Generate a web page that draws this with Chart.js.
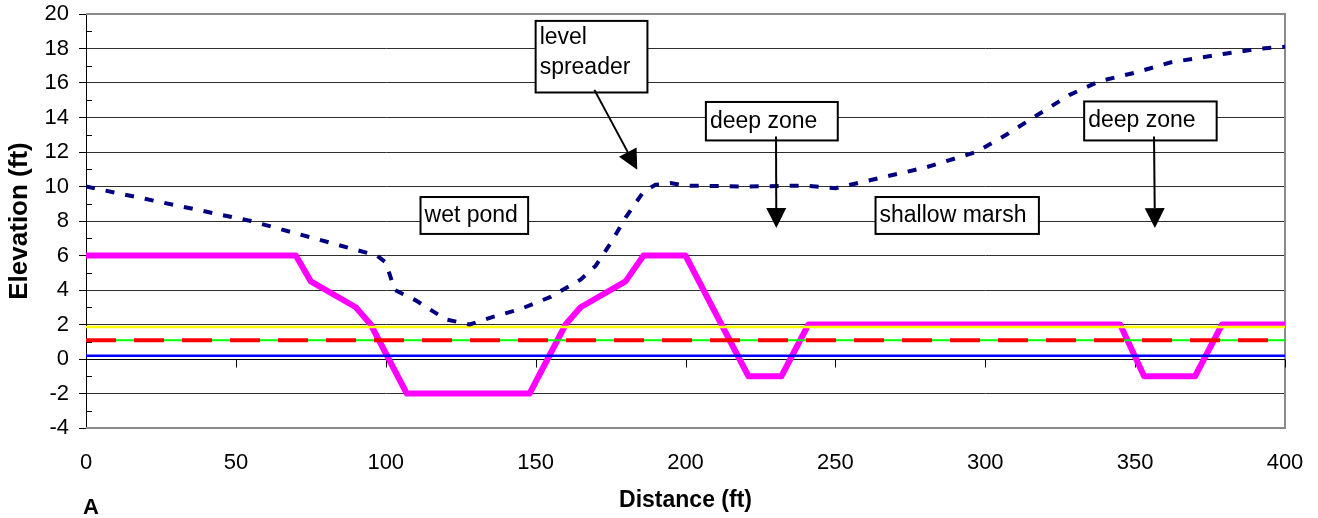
<!DOCTYPE html>
<html lang="en">
<head>
    <meta charset="UTF-8">
    <title>Cross section elevation profile</title>
    <script src="https://cdn.jsdelivr.net/npm/chart.js"></script>
    <style>
        body { margin: 0; background: #fff; }
        #wrap { width: 1318px; height: 518px; }
    </style>
</head>
<body>
<div id="wrap"><canvas id="profileChart" width="1318" height="518"></canvas></div>

<script>
    // existing ground surface
    const groundDist = [0, 55, 97, 100, 103, 110, 120, 128, 135, 145, 155, 165, 170, 175, 180, 186, 190, 195, 200, 220, 240, 250, 265, 280, 297, 307, 317, 328, 338, 350, 362, 380, 392, 400];
    const groundElev = [10, 8, 6, 5.6, 4, 3.4, 2.3, 2, 2.4, 2.9, 3.6, 4.6, 5.4, 6.7, 8.2, 9.7, 10.1, 10.2, 10.05, 10, 10.05, 9.9, 10.5, 11.1, 12, 13, 14.1, 15.3, 16.1, 16.6, 17.2, 17.7, 18, 18.1];

    // proposed grading
    const profileDist = [0, 70, 75, 90, 95, 107, 148, 160, 165, 180, 186, 200, 221, 232, 241, 345, 353, 370, 379, 400];
    const profileElev = [6, 6, 4.5, 3, 2, -2, -2, 2, 3, 4.5, 6, 6, -1, -1, 2, 2, -1, -1, 2, 2];

    // water levels (flat across the section)
    const levelNames = ['Level 1', 'Level 2', 'Level 3', 'Level 4'];
    const levelElev = [1.86, 1.09, 1.09, 0.19];
    const sectionEnds = [0, 400];

    const xTicks = [0, 50, 100, 150, 200, 250, 300, 350, 400];
    const yTicks = [-4, -2, 0, 2, 4, 6, 8, 10, 12, 14, 16, 18, 20];

    const FONT = '"Liberation Sans", Arial, sans-serif';
    Chart.defaults.font.family = FONT;
    Chart.defaults.color = '#000';

    const toPoints = (xs, ys) => xs.map((x, i) => ({ x: x, y: ys[i] }));
    const flat = v => toPoints(sectionEnds, sectionEnds.map(() => v));

    // text boxes and arrows, placed in axis units
    const notes = [
        { lines: ['level', 'spreader'], box: [150, 19.6, 187.3, 15.45], arrow: [169.6, 15.6, 183.9, 10.97] },
        { lines: ['deep zone'], box: [206.8, 14.9, 250.8, 12.67], arrow: [230.2, 12.9, 230.3, 7.59] },
        { lines: ['deep zone'], box: [333.0, 14.93, 377.2, 12.67], arrow: [356.3, 12.9, 356.6, 7.59] },
        { lines: ['wet pond'], box: [111.6, 9.39, 147.5, 7.25] },
        { lines: ['shallow marsh'], box: [263.4, 9.39, 317.9, 7.25] }
    ];

    const framePlugin = {
        id: 'frame',
        beforeDatasetsDraw(chart) {
            const { ctx, chartArea: a, scales: { x, y } } = chart;
            ctx.save();
            // plot border
            ctx.strokeStyle = '#8a8a8a';
            ctx.lineWidth = 2;
            ctx.beginPath();
            ctx.moveTo(a.left, a.top);
            ctx.lineTo(a.right, a.top);
            ctx.lineTo(a.right, a.bottom);
            ctx.lineTo(a.left, a.bottom);
            ctx.stroke();
            // category axis crosses at 0
            const y0 = Math.round(y.getPixelForValue(0)) + 0.5;
            ctx.strokeStyle = '#000';
            ctx.lineWidth = 1;
            ctx.beginPath();
            ctx.moveTo(a.left, y0);
            ctx.lineTo(a.right, y0);
            xTicks.forEach(v => {
                if (v === 0) return;
                const px = Math.round(x.getPixelForValue(v)) + 0.5;
                ctx.moveTo(px, y0);
                ctx.lineTo(px, y0 + 8);
            });
            // minor ticks inside the value axis
            for (let v = -3; v < 20; v += 2) {
                const py = Math.round(y.getPixelForValue(v)) + 0.5;
                ctx.moveTo(a.left, py);
                ctx.lineTo(a.left + 6, py);
            }
            ctx.stroke();
            ctx.restore();
        },
        afterDatasetsDraw(chart) {
            const { ctx, scales: { x, y } } = chart;
            ctx.save();
            ctx.font = '23px ' + FONT;
            ctx.textBaseline = 'middle';
            notes.forEach(n => {
                const x0 = x.getPixelForValue(n.box[0]), y0 = y.getPixelForValue(n.box[1]);
                const x1 = x.getPixelForValue(n.box[2]), y1 = y.getPixelForValue(n.box[3]);
                ctx.fillStyle = '#fff';
                ctx.fillRect(x0, y0, x1 - x0, y1 - y0);
                ctx.strokeStyle = '#000';
                ctx.lineWidth = 2;
                ctx.strokeRect(x0, y0, x1 - x0, y1 - y0);
                ctx.fillStyle = '#000';
                n.lines.forEach((t, i) => {
                    const ty = n.lines.length === 1 ? (y0 + y1) / 2 : y0 + 17 + i * 30;
                    ctx.fillText(t, x0 + 4, ty);
                });
                if (n.arrow) {
                    const ax = x.getPixelForValue(n.arrow[0]), ay = y.getPixelForValue(n.arrow[1]);
                    const bx = x.getPixelForValue(n.arrow[2]), by = y.getPixelForValue(n.arrow[3]);
                    const ang = Math.atan2(by - ay, bx - ax);
                    const len = 20, half = 10;
                    const hx = bx - len * Math.cos(ang), hy = by - len * Math.sin(ang);
                    ctx.lineWidth = 2;
                    ctx.beginPath();
                    ctx.moveTo(ax, ay);
                    ctx.lineTo(hx, hy);
                    ctx.stroke();
                    ctx.beginPath();
                    ctx.moveTo(bx, by);
                    ctx.lineTo(hx + half * Math.sin(ang), hy - half * Math.cos(ang));
                    ctx.lineTo(hx - half * Math.sin(ang), hy + half * Math.cos(ang));
                    ctx.closePath();
                    ctx.fill();
                }
            });
            ctx.restore();
        },
        afterDraw(chart) {
            const { ctx } = chart;
            ctx.save();
            ctx.font = 'bold 22px ' + FONT;
            ctx.textAlign = 'center';
            ctx.textBaseline = 'middle';
            ctx.fillText('A', 91, 508);
            ctx.restore();
        }
    };

    const ctx = document.getElementById('profileChart').getContext('2d');
    const profileChart = new Chart(ctx, {
        type: 'line',
        data: {
            datasets: [
                {
                    label: 'Existing ground',
                    data: toPoints(groundDist, groundElev),
                    borderColor: '#000080',
                    borderWidth: 4,
                    borderDash: [9, 11],
                    borderCapStyle: 'butt'
                },
                { label: levelNames[3], data: flat(levelElev[3]), borderColor: '#0000ff', borderWidth: 2.5 },
                { label: levelNames[0], data: flat(levelElev[0]), borderColor: '#ffff00', borderWidth: 2.5 },
                { label: levelNames[2], data: flat(levelElev[2]), borderColor: '#ff0000', borderWidth: 4, borderDash: [30, 18] },
                { label: levelNames[1], data: flat(levelElev[1]), borderColor: '#00ff00', borderWidth: 2 },
                {
                    label: 'Proposed grade',
                    data: toPoints(profileDist, profileElev),
                    borderColor: '#ff00ff',
                    borderWidth: 6,
                    borderJoinStyle: 'round'
                }
            ]
        },
        options: {
            responsive: false,
            animation: false,
            layout: { padding: { top: 14, right: 33, left: 0, bottom: 0 } },
            elements: { point: { radius: 0 }, line: { tension: 0 } },
            plugins: { legend: { display: false }, tooltip: { enabled: false } },
            scales: {
                x: {
                    type: 'linear',
                    min: 0,
                    max: 400,
                    afterFit: s => { s.height = 90; s.paddingLeft = 0; s.paddingRight = 0; },
                    afterBuildTicks: s => { s.ticks = xTicks.map(v => ({ value: v })); },
                    grid: { display: false, drawTicks: false },
                    border: { display: false },
                    ticks: { padding: 22, font: { size: 22 }, maxRotation: 0 },
                    title: {
                        display: true,
                        text: 'Distance (ft)',
                        font: { size: 23, weight: 'bold' },
                        padding: { bottom: 4 }
                    }
                },
                y: {
                    min: -4,
                    max: 20,
                    afterFit: s => { s.width = 86; s.paddingTop = 0; s.paddingBottom = 0; },
                    afterBuildTicks: s => { s.ticks = yTicks.map(v => ({ value: v })); },
                    grid: {
                        color: c => (c.tick && (c.tick.value === 20 || c.tick.value === -4)) ? 'rgba(0,0,0,0)' : '#2e2e2e',
                        tickColor: '#000',
                        tickLength: 7
                    },
                    border: { color: '#000', width: 1 },
                    ticks: { padding: 10, font: { size: 22 } },
                    title: {
                        display: true,
                        text: 'Elevation (ft)',
                        font: { size: 26, weight: 'bold' },
                        padding: { top: 4 }
                    }
                }
            }
        },
        plugins: [framePlugin]
    });
</script>
</body>
</html>
